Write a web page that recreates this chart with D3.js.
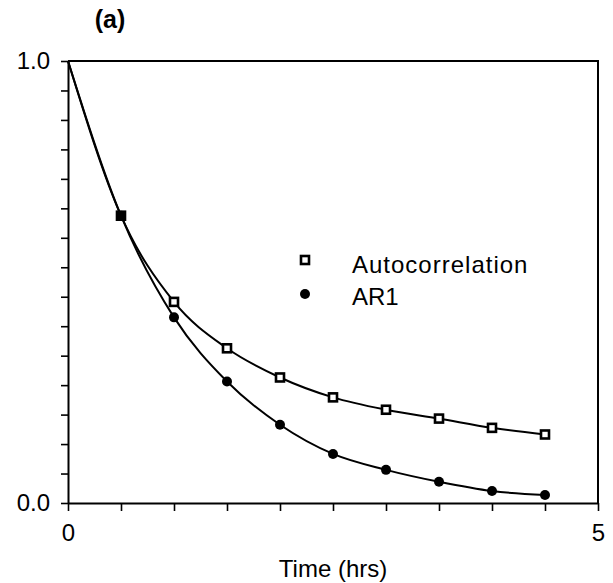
<!DOCTYPE html>
<html>
<head>
<meta charset="utf-8">
<script src="https://cdn.jsdelivr.net/npm/d3@7"></script>
<style>
  body { margin: 0; background: #fff; }
  svg { display: block; font-family: "Liberation Sans", Arial, sans-serif; }
</style>
</head>
<body>
<svg id="chart"></svg>
<script>
// Values
const time = [0, 0.5, 1, 1.5, 2, 2.5, 3, 3.5, 4, 4.5];
const autocorrelation = [1.0, 0.65, 0.455, 0.35, 0.284, 0.239, 0.211, 0.191, 0.170, 0.155];
const ar1 = [1.0, 0.65, 0.42, 0.275, 0.177, 0.111, 0.075, 0.048, 0.027, 0.018];
const xTicks = [0, 0.5, 1, 1.5, 2, 2.5, 3, 3.5, 4, 4.5, 5];
const yTicks = d3.range(16).map((i) => i / 15);
const xLabels = { 0: "0", 5: "5" };
const yLabels = { 0: "0.0", 1: "1.0" };

const width = 613;
const height = 583;

const svg = d3.select("#chart").attr("width", width).attr("height", height);

const x = d3.scaleLinear().domain([0, 5]).range([68, 598]);
const y = d3.scaleLinear().domain([0, 1]).range([503, 61]);

// Axes
const xAxis = svg
  .append("g")
  .attr("transform", `translate(0,${y(0)})`)
  .call(
    d3
      .axisBottom(x)
      .tickValues(xTicks)
      .tickSize(8)
      .tickSizeOuter(0)
      .tickPadding(13)
      .tickFormat((d) => xLabels[d] || "")
  );

const yAxis = svg
  .append("g")
  .attr("transform", `translate(${x(0)},0)`)
  .call(
    d3
      .axisLeft(y)
      .tickValues(yTicks)
      .tickSize(7)
      .tickSizeOuter(0)
      .tickPadding(11)
      .tickFormat((d) => yLabels[d] || "")
  );

[xAxis, yAxis].forEach((g) => {
  g.select(".domain").attr("stroke", "#000").attr("stroke-width", 2);
  g.selectAll(".tick line").attr("stroke", "#000").attr("stroke-width", 1.6);
  g.selectAll(".tick text")
    .attr("fill", "#000")
    .style("font-size", "24px")
    .style("font-family", '"Liberation Sans", Arial, sans-serif');
});

// Frame (top and right)
svg
  .append("path")
  .attr("d", `M${x(0)},${y(1)}H${x(5)}V${y(0)}`)
  .attr("fill", "none")
  .attr("stroke", "#000")
  .attr("stroke-width", 2);

// Curves
const line = d3
  .line()
  .x((d) => x(d[0]))
  .y((d) => y(d[1]))
  .curve(d3.curveMonotoneX);

const series = [
  { name: "Autocorrelation", values: autocorrelation, marker: "square" },
  { name: "AR1", values: ar1, marker: "circle" },
];

series.forEach((s) => {
  svg
    .append("path")
    .datum(time.map((t, i) => [t, s.values[i]]))
    .attr("fill", "none")
    .attr("stroke", "#000")
    .attr("stroke-width", 2)
    .attr("d", line);
});

const drawMarker = (g, kind, cx, cy) => {
  if (kind === "square") {
    g.append("rect")
      .attr("x", cx - 4)
      .attr("y", cy - 4)
      .attr("width", 8)
      .attr("height", 8)
      .attr("fill", "#fff")
      .attr("stroke", "#000")
      .attr("stroke-width", 2.6);
  } else {
    g.append("circle")
      .attr("cx", cx)
      .attr("cy", cy)
      .attr("r", 5)
      .attr("fill", "#000");
  }
};

const markers = svg.append("g");
series.forEach((s) => {
  time.forEach((t, i) => {
    if (t === 0) return;
    drawMarker(markers, s.marker, x(t), y(s.values[i]));
  });
});

// Legend
const legend = svg.append("g");
series.forEach((s, i) => {
  const ly = 260 + i * 34;
  drawMarker(legend, s.marker, 305, ly);
  legend
    .append("text")
    .attr("x", 352)
    .attr("y", ly + 13 - i * 2)
    .style("font-size", "24px")
    .style("letter-spacing", i === 0 ? "1px" : "0px")
    .text(s.name);
});

// Titles
svg
  .append("text")
  .attr("x", 110)
  .attr("y", 28)
  .attr("text-anchor", "middle")
  .style("font-size", "25px")
  .style("font-weight", "bold")
  .text("(a)");

svg
  .append("text")
  .attr("x", (x(0) + x(5)) / 2)
  .attr("y", 577)
  .attr("text-anchor", "middle")
  .style("font-size", "24px")
  .text("Time (hrs)");
</script>
</body>
</html>
